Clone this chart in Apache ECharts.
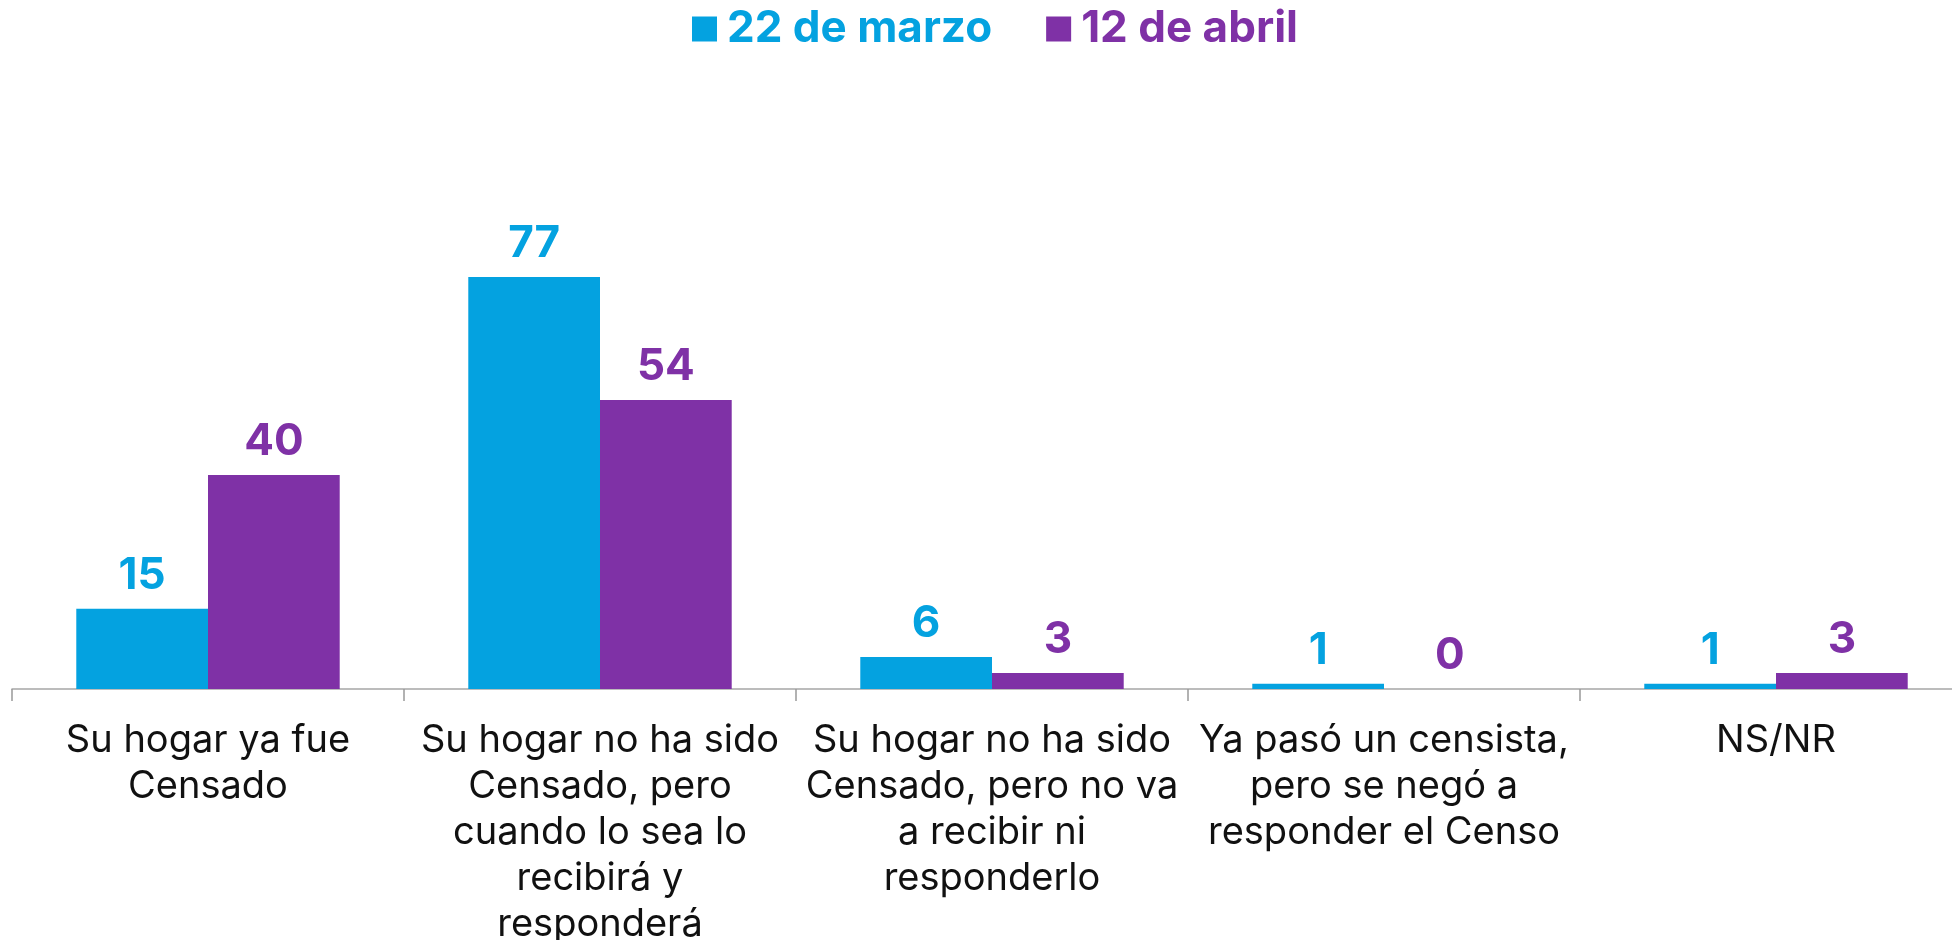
<!DOCTYPE html>
<html>
<head>
<meta charset="utf-8">
<script src="https://cdn.jsdelivr.net/npm/echarts@6/dist/echarts.min.js"></script>
<style>
  html, body { margin: 0; padding: 0; background: #fff; }
  #chart { width: 1952px; height: 940px; }
</style>
</head>
<body>
<div id="chart"></div>
<script>
const categories = [
  "Su hogar ya fue\nCensado",
  "Su hogar no ha sido\nCensado, pero\ncuando lo sea lo\nrecibirá y\nresponderá",
  "Su hogar no ha sido\nCensado, pero no va\na recibir ni\nresponderlo",
  "Ya pasó un censista,\npero se negó a\nresponder el Censo",
  "NS/NR"
];
const marzo = [15, 77, 6, 1, 1];
const abril = [40, 54, 3, 0, 3];
const seriesNames = ["22 de marzo", "12 de abril"];

const BLUE = "#04A2E0";
const PURPLE = "#7F31A6";
const FONT = "Inter, 'Noto Sans', sans-serif";

const chart = echarts.init(document.getElementById("chart"));

function barLabel(color) {
  return {
    show: true,
    position: "top",
    distance: 11,
    color: color,
    fontFamily: FONT,
    fontWeight: 700,
    fontSize: 44
  };
}

chart.setOption({
  animation: false,
  legend: {
    top: 2,
    left: 687,
    itemWidth: 25,
    itemHeight: 25,
    itemGap: 54,
    icon: "rect",
    textStyle: {
      fontFamily: FONT,
      fontWeight: 700,
      fontSize: 44,
      padding: [0, 0, 0, 5]
    },
    data: [
      { name: seriesNames[0], textStyle: { color: BLUE } },
      { name: seriesNames[1], textStyle: { color: PURPLE } }
    ]
  },
  grid: { left: 12, right: -20, top: 154, bottom: 251, outerBoundsMode: "none" },
  xAxis: {
    type: "category",
    data: categories,
    axisLine: { lineStyle: { color: "#A6A6A6", width: 1.5 } },
    axisTick: { show: true, length: 12, lineStyle: { color: "#999", width: 1.5 } },
    axisLabel: {
      interval: 0,
      margin: 29,
      color: "#111",
      fontFamily: FONT,
      fontSize: 38,
      lineHeight: 46
    }
  },
  yAxis: {
    type: "value",
    min: 0,
    max: 100,
    show: false,
    splitLine: { show: false }
  },
  series: [
    {
      name: seriesNames[0],
      type: "bar",
      data: marzo,
      barWidth: "33.6%",
      barGap: "0%",
      itemStyle: { color: BLUE },
      label: barLabel(BLUE)
    },
    {
      name: seriesNames[1],
      type: "bar",
      data: abril,
      barWidth: "33.6%",
      barGap: "0%",
      itemStyle: { color: PURPLE },
      label: barLabel(PURPLE)
    }
  ]
});

window.addEventListener("resize", () => chart.resize());
</script>
</body>
</html>
